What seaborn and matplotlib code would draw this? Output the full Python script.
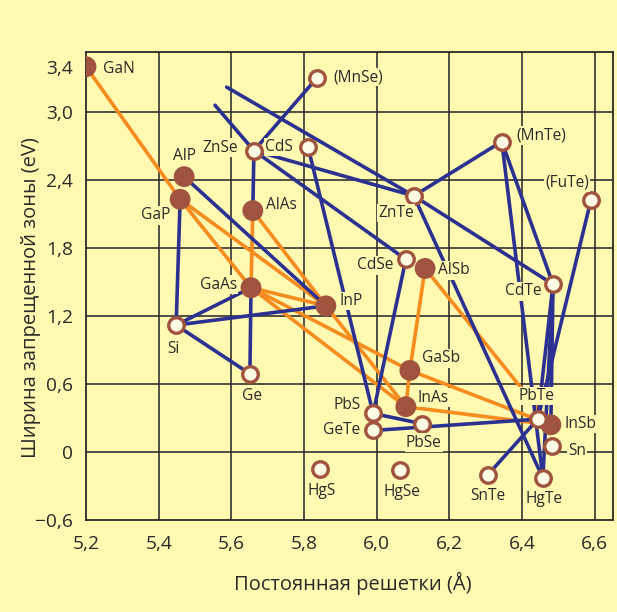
import matplotlib
matplotlib.use("Agg")
import matplotlib.pyplot as plt
import numpy as np
import pandas as pd
import seaborn as sns

# ---------------- data ----------------
names = ["GaN", "(MnSe)", "AlP", "GaP", "ZnSe", "CdS", "AlAs", "(MnTe)", "ZnTe",
         "(FuTe)", "CdSe", "AlSb", "CdTe", "GaAs", "InP", "Si", "Ge", "GaSb",
         "InAs", "PbS", "GeTe", "PbSe", "PbTe", "InSb", "Sn", "HgS", "HgSe",
         "SnTe", "HgTe"]
lattice = [5.200, 5.835, 5.470, 5.459, 5.662, 5.811, 5.659, 6.344, 6.102,
           6.589, 6.080, 6.133, 6.485, 5.654, 5.860, 5.448, 5.651, 6.091,
           6.080, 5.990, 5.990, 6.124, 6.443, 6.479, 6.482, 5.844, 6.064,
           6.306, 6.457]
gap = [3.40, 3.30, 2.43, 2.23, 2.66, 2.69, 2.13, 2.74, 2.26,
       2.22, 1.70, 1.62, 1.48, 1.45, 1.29, 1.12, 0.69, 0.72,
       0.40, 0.34, 0.19, 0.25, 0.29, 0.24, 0.05, -0.15, -0.16,
       -0.20, -0.23]
kind = ["III-V", "other", "III-V", "III-V", "other", "other", "III-V", "other", "other",
        "other", "other", "III-V", "other", "III-V", "III-V", "other", "other", "III-V",
        "III-V", "other", "other", "other", "other", "III-V", "other", "other", "other",
        "other", "other"]

orange_pairs = [("GaN", "GaP"), ("GaP", "GaAs"), ("GaP", "InP"), ("AlAs", "GaAs"),
                ("AlAs", "InP"), ("GaAs", "InP"), ("GaAs", "GaSb"), ("GaAs", "InAs"),
                ("InP", "InAs"), ("AlSb", "GaSb"), ("AlSb", "InSb"), ("GaSb", "InAs"),
                ("GaSb", "InSb"), ("InAs", "InSb")]
blue_pairs = [("AlP", "InP"), ("GaP", "Si"), ("Si", "GaAs"), ("Si", "InP"), ("Si", "Ge"),
              ("GaAs", "Ge"), ("ZnSe", "AlAs"), ("ZnSe", "(MnSe)"), ("ZnSe", "ZnTe"),
              ("ZnSe", "CdSe"), ("CdS", "PbS"), ("CdSe", "PbS"), ("ZnTe", "(MnTe)"),
              ("ZnTe", "CdTe"), ("ZnTe", "HgTe"), ("(MnTe)", "CdTe"), ("(MnTe)", "HgTe"),
              ("CdTe", "HgTe"), ("CdTe", "PbTe"), ("CdTe", "InSb"), ("(FuTe)", "PbTe"),
              ("PbS", "PbSe"), ("GeTe", "PbTe"), ("SnTe", "PbTe"), ("PbS", "GeTe")]
# blue lines that leave a compound and end without a marker
open_lines = [("ZnSe", 5.555, 3.06), ("ZnTe", 5.587, 3.22)]

x_ticks = [5.2, 5.4, 5.6, 5.8, 6.0, 6.2, 6.4, 6.6]
x_tick_labels = ["5,2", "5,4", "5,6", "5,8", "6,0", "6,2", "6,4", "6,6"]
y_ticks = [3.4, 3.0, 2.4, 1.8, 1.2, 0.6, 0.0, -0.6]
y_tick_labels = ["3,4", "3,0", "2,4", "1,8", "1,2", "0,6", "0", "\u22120,6"]
grid_x = [5.4, 5.6, 5.8, 6.0, 6.2, 6.4, 6.6]
grid_y = [0.0, 0.6, 1.2, 1.8, 2.4, 3.0]

x_label = "Постоянная решетки (Å)"
y_label = "Ширина запрещенной зоны (eV)"

# label offsets in pixels (dx, dy, ha)
label_pos = {
    "GaN": (17, -2, "left"), "(MnSe)": (17, 1, "left"), "AlP": (0, 21, "center"),
    "GaP": (-10, -16, "right"), "ZnSe": (-16, 3, "right"), "CdS": (-15, 0, "right"),
    "AlAs": (13, 6, "left"), "(MnTe)": (15, 6, "left"), "ZnTe": (-18, -17, "center"),
    "(FuTe)": (-24, 18, "center"), "CdSe": (-12, -6, "right"), "AlSb": (13, -2, "left"),
    "CdTe": (-12, -7, "right"), "GaAs": (-14, 3, "right"), "InP": (14, 5, "left"),
    "Si": (-3, -24, "center"), "Ge": (2, -22, "center"), "GaSb": (12, 12, "left"),
    "InAs": (12, 9, "left"), "PbS": (-12, 8, "right"), "GeTe": (-13, 0, "right"),
    "PbSe": (2, -19, "center"), "PbTe": (-1, 23, "center"), "InSb": (14, 1, "left"),
    "Sn": (16, -5, "left"), "HgS": (2, -22, "center"), "HgSe": (2, -22, "center"),
    "SnTe": (0, -21, "center"), "HgTe": (1, -21, "center"),
}

# ---------------- styles ----------------
BG = "#FFF9B2"
BLUE = "#2B3190"
ORANGE = "#F68B1F"
BROWN = "#A0543F"
HOLLOW = "#FFFCE6"
INK = "#2A2A2A"

pts = pd.DataFrame({"name": names, "a": lattice, "eg": gap, "kind": kind})
lookup = {n: (x, y) for n, x, y in zip(names, lattice, gap)}

rows = []
sid = 0
for grp, pairs in (("orange", orange_pairs), ("blue", blue_pairs)):
    for p, q in pairs:
        for n in (p, q):
            rows.append({"seg": sid, "grp": grp, "x": lookup[n][0], "y": lookup[n][1]})
        sid += 1
for n, ex, ey in open_lines:
    rows.append({"seg": sid, "grp": "blue", "x": lookup[n][0], "y": lookup[n][1]})
    rows.append({"seg": sid, "grp": "blue", "x": ex, "y": ey})
    sid += 1
segs = pd.DataFrame(rows)

sns.set_theme(style="white")
plt.rcParams["font.family"] = ["Open Sans", "DejaVu Sans"]

fig = plt.figure(figsize=(6.17, 6.12), dpi=100, facecolor=BG)
ax = fig.add_axes([86 / 617, 1 - 520 / 612, (613 - 86) / 617, (520 - 52) / 612])
ax.set_facecolor(BG)

for gx in grid_x:
    ax.axvline(gx, color=INK, lw=1.15, zorder=1)
for gy in grid_y:
    ax.axhline(gy, color=INK, lw=1.15, zorder=1)

for grp, color, z in (("orange", ORANGE, 2), ("blue", BLUE, 2.5)):
    sub = segs[segs["grp"] == grp]
    sns.lineplot(data=sub, x="x", y="y", units="seg", estimator=None, sort=False,
                 color=color, linewidth=2.6, ax=ax, legend=False, zorder=z)

filled = pts[pts["kind"] == "III-V"]
hollow = pts[pts["kind"] != "III-V"]
sns.scatterplot(data=filled, x="a", y="eg", color=BROWN, s=225, edgecolor="none",
                ax=ax, zorder=4, legend=False)
sns.scatterplot(data=hollow, x="a", y="eg", facecolor=HOLLOW, edgecolor=BROWN,
                linewidth=2.4, s=125, ax=ax, zorder=4, legend=False)

for n, x, y in zip(names, lattice, gap):
    dx, dy, ha = label_pos[n]
    ax.annotate(n, (x, y), xytext=(dx, dy), textcoords="offset pixels",
                ha=ha, va="center", fontsize=11.2, color=INK, zorder=6,
                bbox=dict(boxstyle="square,pad=0.08", fc=BG, ec="none"))

ax.set_xlim(5.2, 6.65)
ax.set_ylim(-0.6, 3.53)
ax.set_xticks(x_ticks)
ax.set_xticklabels(x_tick_labels)
ax.set_yticks(y_ticks)
ax.set_yticklabels(y_tick_labels)
ax.tick_params(axis="both", length=0, labelsize=13.8, colors=INK)
ax.tick_params(axis="x", pad=11)
ax.tick_params(axis="y", pad=9.5)
ax.grid(False)
for sp in ax.spines.values():
    sp.set_visible(True)
    sp.set_color(INK)
    sp.set_linewidth(1.3)

ax.set_xlabel(x_label, fontsize=14.5, color=INK)
ax.set_ylabel(y_label, fontsize=14.5, color=INK)
ax.xaxis.set_label_coords((353 - 86) / 527, (520 - 572) / 468)
ax.yaxis.set_label_coords((41 - 86) / 527, (520 - 298) / 468)

fig.savefig("out.png", dpi=100, facecolor=BG)
